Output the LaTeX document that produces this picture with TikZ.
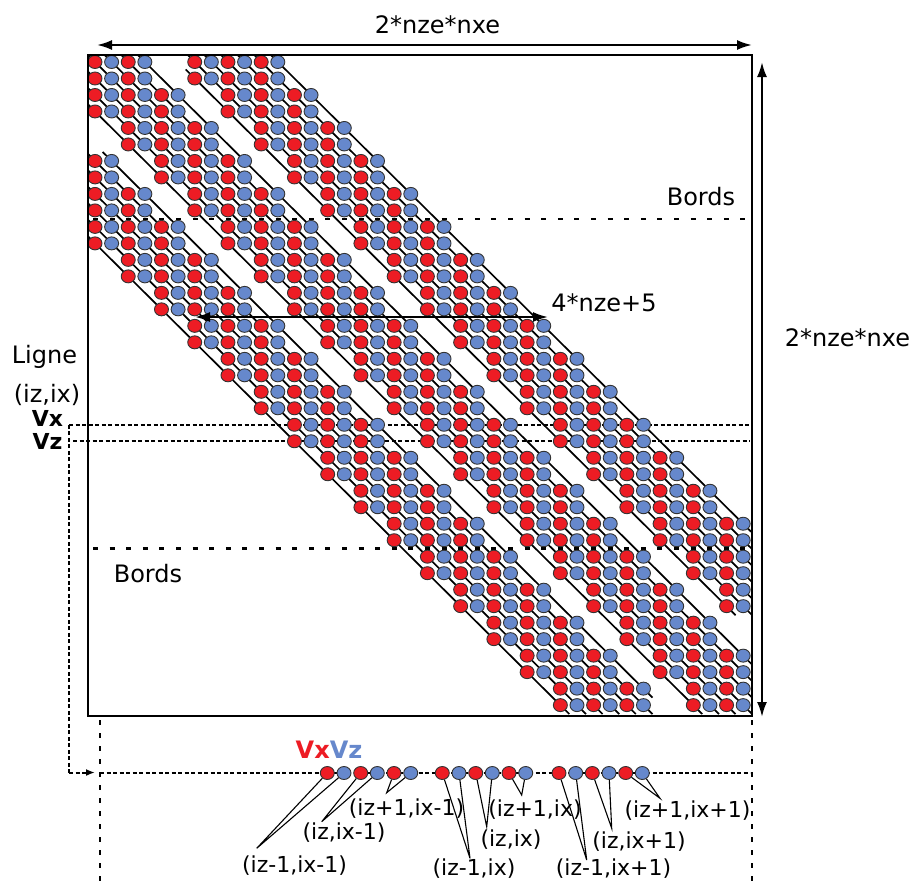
\documentclass[tikz,border=0pt]{standalone}
\usepackage{fontspec}
\setmainfont{DejaVu Sans}
\usetikzlibrary{arrows.meta,shapes.geometric}
\definecolor{vxred}{RGB}{237,28,36}
\definecolor{vzblue}{RGB}{102,136,204}
\begin{document}
\begin{tikzpicture}[x=1pt,y=-1pt,
  dotr/.style={ellipse,draw=black!80,line width=0.9pt,fill=vxred,minimum width=14pt,minimum height=13pt,inner sep=0pt},
  dotb/.style={dotr,fill=vzblue},
  diag/.style={line width=1.7pt,black},
  bord/.style={line width=2.2pt,dash pattern=on 5pt off 11.6pt},
  rowline/.style={line width=2pt,dash pattern=on 4pt off 2.5pt},
  guide/.style={line width=2pt,dash pattern=on 5pt off 8pt},
  dimarrow/.style={line width=2.2pt,{Latex[length=15pt,width=10pt]}-{Latex[length=15pt,width=10pt]}},
  lblbig/.style={font=\fontsize{24}{28}\selectfont,inner sep=0pt},
  lblbold/.style={font=\fontsize{22}{26}\selectfont\bfseries,inner sep=0pt},
  lblsmall/.style={font=\fontsize{22}{26}\selectfont,inner sep=0pt},
  callout/.style={line width=1.1pt}
]
\useasboundingbox (0,0) rectangle (920,886);

% dashed guide lines behind the matrix
\draw[bord] (93,218.7) -- (748,218.7);
\draw[bord] (93,548.5) -- (748,548.5);
\coordinate (vxstart) at (69,424.8);
\coordinate (vxend) at (750,424.8);
\coordinate (vzstart) at (73,441.3);
\coordinate (vzend) at (750,441.3);
\coordinate (corner) at (69,772.5);
\coordinate (rowin) at (95,772.5);
\coordinate (rowL) at (100,772.5);
\coordinate (rowR) at (750,772.5);
\draw[rowline] (vxstart) -- (vxend);
\draw[rowline] (vzstart) -- (vzend);
\draw[rowline] (vxstart) -- (corner);
\draw[rowline,-{Latex[length=9pt,width=7pt]}] (corner) -- (rowin);
\draw[rowline] (rowL) -- (rowR);
\coordinate (gl1) at (100,720);
\coordinate (gl2) at (100,886);
\coordinate (gr1) at (752,720);
\coordinate (gr2) at (752,886);
\draw[guide] (gl1) -- (gl2);
\draw[guide] (gr1) -- (gr2);

% diagonal lines
\begin{scope}
\clip (89,56) rectangle (751,715);
\foreach \ra/\ca/\rb/\cb in {11/0/39/28,10/0/39/29,9/0/39/30,8/0/39/31,7/0/39/32,6/0/39/33,6/1/38/33,3/0/39/36,2/0/39/37,1/0/39/38,0/0/39/39,0/1/38/39,0/2/37/39,0/3/36/39,1/6/33/38,0/6/33/39,0/7/32/39,0/8/31/39,0/9/30/39,0/10/29/39,0/11/28/39}
  \draw[diag] ({95+16.62*\ca-9},{62+16.49*\ra-9}) -- ({95+16.62*\cb+9},{62+16.49*\rb+9});
\end{scope}

% matrix dots
\foreach \r in {0,...,39}{
  \foreach \c in {0,...,39}{
    \pgfmathtruncatemacro\dd{abs(floor(\c/2)-floor(\r/2))}
    \pgfmathtruncatemacro\cpar{mod(\c,2)}
    \ifnum\dd<6 \ifnum\dd=2 \else
      \ifnum\cpar=0
        \node[dotr] at ({95+16.62*\c},{62+16.49*\r}) {};
      \else
        \node[dotb] at ({95+16.62*\c},{62+16.49*\r}) {};
      \fi
    \fi\fi
  }
}

% frame
\draw[line width=2.5pt] (88,55) rectangle (752,716);

% dimension arrows
\coordinate (topL) at (97,45);
\coordinate (topR) at (752,45);
\draw[dimarrow] (topL) -- (topR);
\coordinate (rightT) at (762,62);
\coordinate (rightB) at (762,717);
\draw[dimarrow] (rightT) -- (rightB);
\coordinate (bandL) at (195,317);
\coordinate (bandR) at (548,317);
\draw[dimarrow] (bandL) -- (bandR);

% labels
\node[lblbig,anchor=base] (ttop) at (437.5,33) {2*nze*nxe};
\node[lblbig,anchor=base] (tright) at (847.5,346) {2*nze*nxe};
\node[lblbig,anchor=base] (tband) at (604,311) {4*nze+5};
\node[lblbig,anchor=base] (bord1) at (701,205) {Bords};
\node[lblbig,anchor=base] (bord2) at (148,582) {Bords};
\node[lblbig,anchor=base] (ligne) at (44.5,363) {Ligne};
\node[lblbig] (izix) at (47,395) {(iz,ix)};
\node[lblbold,anchor=base] (vxl) at (47.5,426) {Vx};
\node[lblbold,anchor=base] (vzl) at (47.5,449) {Vz};
\node[font=\fontsize{24}{28}\selectfont\bfseries,inner sep=0pt,anchor=base] (vxvz) at (329,758) {\textcolor{vxred}{Vx}\textcolor{vzblue}{Vz}};

% extracted row
\foreach \i/\x/\s in {1/327.3/dotr,2/344/dotb,3/360.7/dotr,4/377.3/dotb,5/394/dotr,6/410.7/dotb,
  7/442.3/dotr,8/459/dotb,9/475.7/dotr,10/492.3/dotb,11/509/dotr,12/525.7/dotb,
  13/559/dotr,14/575.7/dotb,15/592.3/dotr,16/609/dotb,17/625.7/dotr,18/642.3/dotb}
  \node[\s] (b\i) at (\x,773) {};

\coordinate (c1) at (256.7,848.3);
\coordinate (c2) at (321.7,821.7);
\coordinate (c3) at (386.7,792.7);
\coordinate (c4) at (470,858.3);
\coordinate (c5) at (486.7,826.7);
\coordinate (c6) at (521.7,795);
\coordinate (c7) at (586.7,860);
\coordinate (c8) at (611.7,828.3);
\coordinate (c9) at (660,798.3);
\foreach \j/\a/\b in {1/1/2,2/3/4,3/5/6,4/7/8,5/9/10,6/11/12,7/13/14,8/15/16,9/17/18}
  \draw[callout] (b\a) -- (c\j) -- (b\b);

\node[lblsmall] (l1) at (294.5,866) {(iz-1,ix-1)};
\node[lblsmall] (l2) at (344,832.5) {(iz,ix-1)};
\node[lblsmall] (l3) at (406.5,809) {(iz+1,ix-1)};
\node[lblsmall] (l4) at (474,869) {(iz-1,ix)};
\node[lblsmall] (l5) at (511,839.5) {(iz,ix)};
\node[lblsmall] (l6) at (535,809.5) {(iz+1,ix)};
\node[lblsmall] (l7) at (613.5,869) {(iz-1,ix+1)};
\node[lblsmall] (l8) at (639,841.5) {(iz,ix+1)};
\node[lblsmall] (l9) at (687.5,811) {(iz+1,ix+1)};
\end{tikzpicture}
\end{document}
